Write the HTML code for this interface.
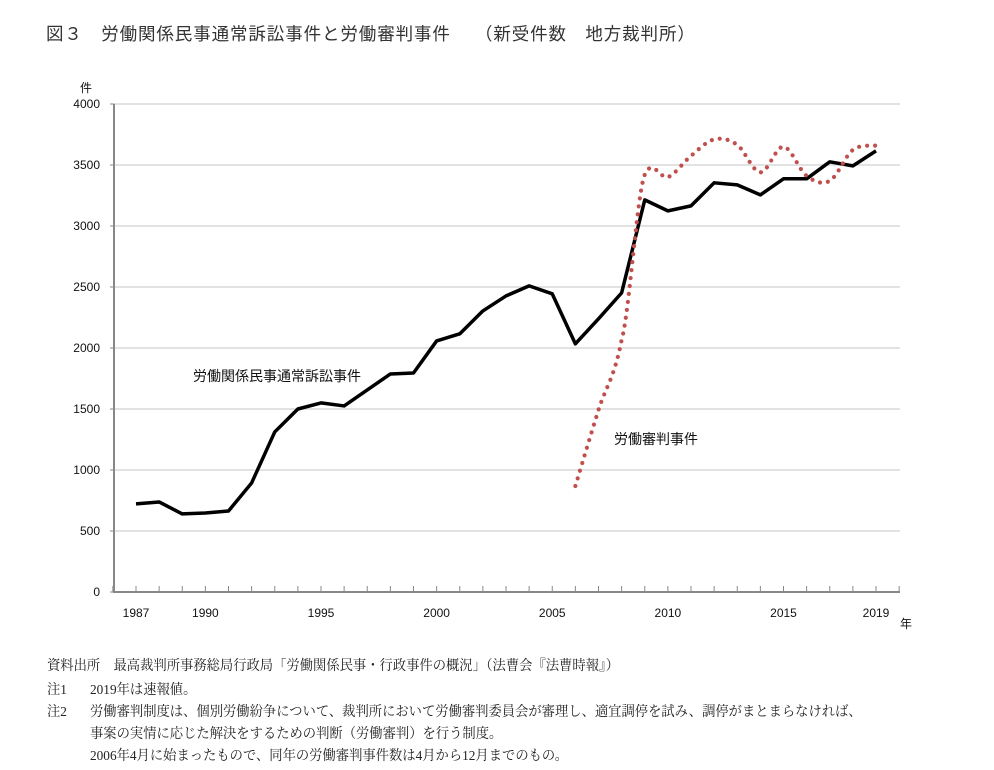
<!DOCTYPE html>
<html><head><meta charset="utf-8"><style>
body{margin:0;background:#fff;width:994px;height:770px;overflow:hidden;position:relative;font-family:"Liberation Sans","Noto Sans CJK JP",sans-serif}
.t{position:absolute;white-space:nowrap}
.fn{position:absolute;font-family:"Liberation Serif","Noto Serif CJK JP",serif;font-size:14px;color:#222;white-space:nowrap;transform-origin:0 0;transform:scaleX(0.95)}
</style></head><body>
<div class="t" style="left:46px;top:21px;font-size:17.5px;color:#333;letter-spacing:0.9px">図３　労働関係民事通常訴訟事件と労働審判事件　 （新受件数　地方裁判所）</div>
<svg id="s" width="994" height="770" style="position:absolute;left:0;top:0"></svg>
<div class="fn" style="left:47px;top:655px">資料出所　最高裁判所事務総局行政局「労働関係民事・行政事件の概況」（法曹会『法曹時報』）</div>
<div class="fn" style="left:47px;top:679px">注1</div><div class="fn" style="left:90px;top:679px">2019年は速報値。</div>
<div class="fn" style="left:47px;top:701px">注2</div><div class="fn" style="left:90px;top:701px">労働審判制度は、個別労働紛争について、裁判所において労働審判委員会が審理し、適宜調停を試み、調停がまとまらなければ、</div>
<div class="fn" style="left:90px;top:723px">事案の実情に応じた解決をするための判断（労働審判）を行う制度。</div>
<div class="fn" style="left:90px;top:745px">2006年4月に始まったもので、同年の労働審判事件数は4月から12月までのもの。</div>
<script>
var s=document.getElementById('s'),h='';
function X(y){return 136+(y-1987)*23.125}
function Y(v){return 592-v*0.122}
for(var v=500;v<=4000;v+=500)h+='<line x1="114" x2="900" y1="'+Y(v)+'" y2="'+Y(v)+'" stroke="#d9d9d9" stroke-width="1.5"/>';
for(var v=0;v<=4000;v+=500)h+='<line x1="110" x2="114" y1="'+Y(v)+'" y2="'+Y(v)+'" stroke="#888"/><text x="100" y="'+(Y(v)+4)+'" font-size="12" text-anchor="end" fill="#111">'+v+'</text>';
h+='<line x1="114" x2="114" y1="104" y2="592" stroke="#888" stroke-width="2"/>';
h+='<line x1="113" x2="900" y1="592" y2="592" stroke="#888" stroke-width="2"/>';
for(var y=1986;y<=2020;y++)h+='<line x1="'+X(y)+'" x2="'+X(y)+'" y1="586" y2="592" stroke="#888"/>';
[1987,1990,1995,2000,2005,2010,2015,2019].forEach(function(y){h+='<text x="'+X(y)+'" y="617" font-size="12" text-anchor="middle" fill="#111">'+y+'</text>'});
h+='<text x="80" y="92" font-size="12" fill="#111">件</text><text x="900" y="628" font-size="12" fill="#111">年</text>';
var b=[722,738,640,648,664,894,1312,1500,1550,1525,1656,1787,1795,2058,2116,2304,2427,2509,2444,2034,2239,2452,3214,3124,3165,3354,3337,3255,3387,3387,3526,3493,3616];
var p=b.map(function(v,i){return X(1987+i)+','+Y(v)}).join(' ');
h+='<polyline points="'+p+'" fill="none" stroke="#000" stroke-width="3.5" stroke-linejoin="round"/>';
var r=[869,1492,2066,3420,3400,3575,3710,3665,3440,3650,3411,3370,3624,3660];
var pts=r.map(function(v,i){return [X(2006+i),Y(v)]});
var d='M'+pts[0];
for(var i=0;i<pts.length-1;i++){var p0=pts[i-1]||pts[i],p1=pts[i],p2=pts[i+1],p3=pts[i+2]||p2;
var k=(i==2||i==3)?9:6;
var c1=[p1[0]+(p2[0]-p0[0])/6,p1[1]+(p2[1]-p0[1])/k],c2=[p2[0]-(p3[0]-p1[0])/6,p2[1]-(p3[1]-p1[1])/k];
d+=' C'+c1+' '+c2+' '+p2;}
h+='<path d="'+d+'" fill="none" stroke="#c0504d" stroke-width="4.2" stroke-linecap="round" stroke-dasharray="0 8"/>';
h+='<text x="193" y="381" font-size="14" fill="#111">労働関係民事通常訴訟事件</text>';
h+='<text x="614" y="444" font-size="14" fill="#111">労働審判事件</text>';
s.innerHTML=h;
</script>
</body></html>
